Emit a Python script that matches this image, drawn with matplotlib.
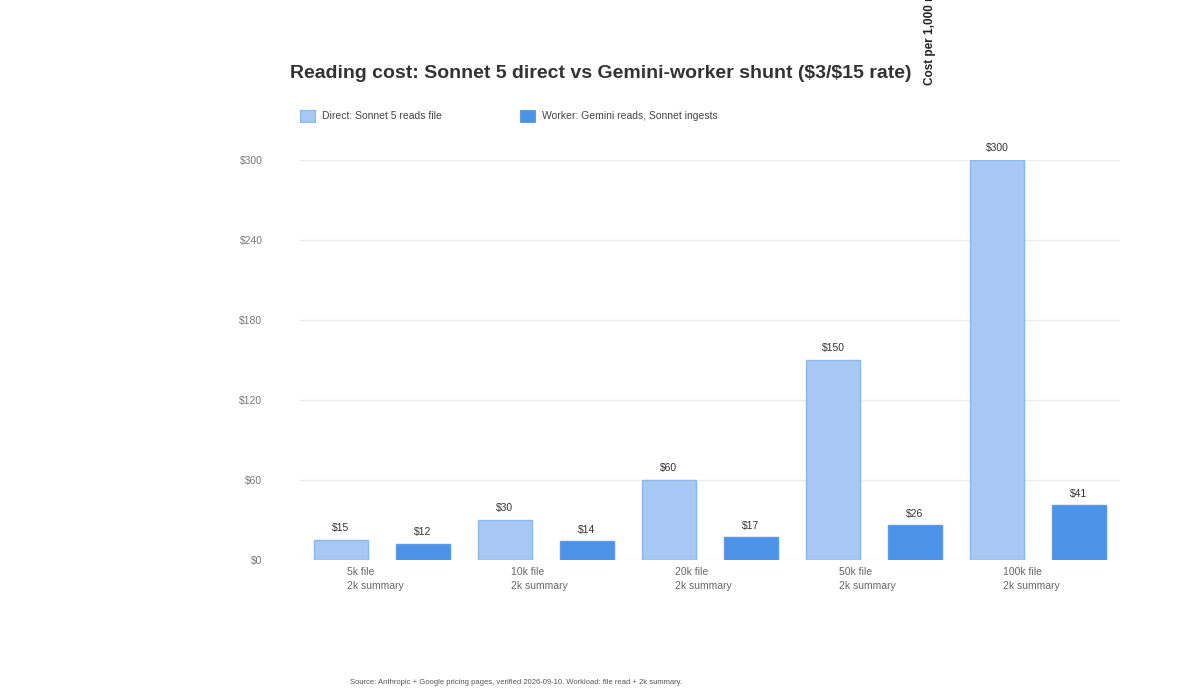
import matplotlib
matplotlib.use("Agg")
import matplotlib.pyplot as plt
from matplotlib.patches import Rectangle

categories = ["5k file\n2k summary", "10k file\n2k summary", "20k file\n2k summary", "50k file\n2k summary", "100k file\n2k summary"]
direct = [15, 30, 60, 150, 300]
worker = [12, 14, 17, 26, 41]
yticks = [0, 60, 120, 180, 240, 300]

plt.rcParams['font.family'] = ['Liberation Sans', 'DejaVu Sans']
fig = plt.figure(figsize=(12, 7), dpi=100)
ax = fig.add_axes([0.25, 0.2, 820/1200, 400/700])
ax.set_xlim(0, len(categories))
ax.set_ylim(0, 300)
ax.set_yticks(yticks)
ax.set_yticklabels([f"\\${v}" for v in yticks], fontsize=7.5, color="#777777")
ax.tick_params(axis='y', length=0, pad=27)
ax.set_xticks([])
ax.grid(axis='y', color="#ececec", linewidth=1)
ax.set_axisbelow(True)
for s in ax.spines.values():
    s.set_visible(False)

light, light_edge, dark = "#A6C8F3", "#8DB6F0", "#4C92E6"
w = 0.335
for i, (d, k) in enumerate(zip(direct, worker)):
    ax.bar(i + 0.25, d, w, color=light, edgecolor=light_edge, linewidth=1)
    ax.bar(i + 0.75, k, w, color=dark, edgecolor="#5C9CEB", linewidth=1)
    ax.text(i + 0.25, d + 5, f"\\${d}", ha='center', va='bottom', fontsize=7.5, color="#333333")
    ax.text(i + 0.75, k + 5, f"\\${k}", ha='center', va='bottom', fontsize=7.5, color="#333333")
    ax.text(i + 0.287, -5, categories[i], ha='left', va='top', fontsize=7.5, color="#666666", linespacing=1.6)

fig.text(290/1200, 1 - 73/700, "Reading cost: Sonnet 5 direct vs Gemini-worker shunt (\\$3/\\$15 rate)",
         fontsize=14, fontweight='bold', color="#333333", va='center', ha='left')
fig.text(930/1200, 1 - 85/700, "Cost per 1,000 reads", rotation=90, fontsize=8.5,
         fontweight='bold', color="#222222", ha='center', va='bottom')

for x, c, e, lab in [(300, light, light_edge, "Direct: Sonnet 5 reads file"),
                     (520, dark, "#5C9CEB", "Worker: Gemini reads, Sonnet ingests")]:
    fig.patches.append(Rectangle((x/1200, 1 - 122/700), 15/1200, 12/700, transform=fig.transFigure,
                                 facecolor=c, edgecolor=e, linewidth=0.8))
    fig.text((x + 22)/1200, 1 - 116/700, lab, fontsize=7.5, color="#444444", va='center', ha='left')

fig.text(350/1200, 1 - 682/700, "Source: Anthropic + Google pricing pages, verified 2026-09-10. Workload: file read + 2k summary.",
         fontsize=5.5, color="#555555", va='center', ha='left')

fig.savefig("out.png", dpi=100)
